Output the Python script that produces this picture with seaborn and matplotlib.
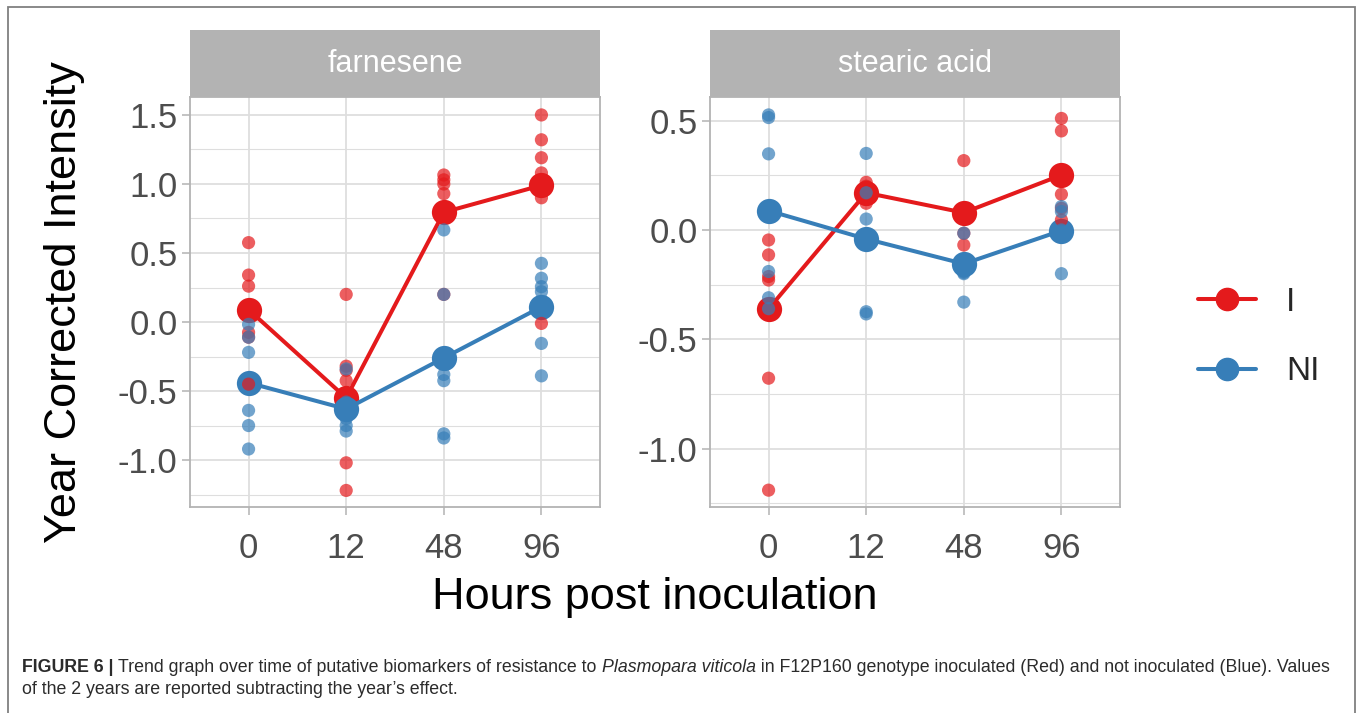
import numpy as np
import pandas as pd
import matplotlib
matplotlib.use("Agg")
import matplotlib.pyplot as plt
from matplotlib.lines import Line2D
from matplotlib.patches import Rectangle
import seaborn as sns

# ---------------- data ----------------
hours = ["0", "12", "48", "96"]
groups = ["I", "NI"]
compounds = ["farnesene", "stearic acid"]

far_I_0 = [0.575, 0.34, 0.26, -0.075, -0.11, -0.45]
far_I_12 = [0.20, -0.32, -0.35, -0.425, -1.02, -1.22]
far_I_48 = [1.065, 1.03, 1.0, 0.93, 0.80, 0.20]
far_I_96 = [1.50, 1.32, 1.19, 1.08, 0.90, -0.01]
far_NI_0 = [-0.017, -0.11, -0.22, -0.64, -0.75, -0.92]
far_NI_12 = [-0.34, -0.58, -0.62, -0.70, -0.75, -0.79]
far_NI_48 = [0.667, 0.20, -0.38, -0.425, -0.81, -0.84]
far_NI_96 = [0.425, 0.317, 0.256, 0.22, -0.155, -0.39]
far_I_mean = [0.09, -0.55, 0.795, 0.99]
far_NI_mean = [-0.44, -0.63, -0.26, 0.11]

st_I_0 = [-0.046, -0.114, -0.213, -0.229, -0.678, -1.19]
st_I_12 = [0.218, 0.20, 0.17, 0.15, 0.14, 0.122]
st_I_48 = [0.317, 0.08, 0.08, -0.015, -0.069, 0.08]
st_I_96 = [0.51, 0.453, 0.235, 0.163, 0.099, 0.046]
st_NI_0 = [0.526, 0.514, 0.348, -0.19, -0.31, -0.36]
st_NI_12 = [0.35, 0.05, 0.17, -0.06, -0.374, -0.384]
st_NI_48 = [-0.015, -0.155, -0.19, -0.20, -0.33, -0.195]
st_NI_96 = [0.107, 0.084, 0.0, -0.01, -0.005, -0.20]
st_I_mean = [-0.361, 0.17, 0.079, 0.251]
st_NI_mean = [0.088, -0.041, -0.155, -0.003]

raw = {
    ("farnesene", "I"): [far_I_0, far_I_12, far_I_48, far_I_96],
    ("farnesene", "NI"): [far_NI_0, far_NI_12, far_NI_48, far_NI_96],
    ("stearic acid", "I"): [st_I_0, st_I_12, st_I_48, st_I_96],
    ("stearic acid", "NI"): [st_NI_0, st_NI_12, st_NI_48, st_NI_96],
}
means = {
    ("farnesene", "I"): far_I_mean,
    ("farnesene", "NI"): far_NI_mean,
    ("stearic acid", "I"): st_I_mean,
    ("stearic acid", "NI"): st_NI_mean,
}

rows = []
for (comp, grp), lists in raw.items():
    for h, vals in zip(hours, lists):
        for v in vals:
            rows.append({"compound": comp, "group": grp, "hours": h, "value": v})
points_df = pd.DataFrame(rows)
mrows = []
for (comp, grp), vals in means.items():
    for h, v in zip(hours, vals):
        mrows.append({"compound": comp, "group": grp, "hours": h, "value": v})
means_df = pd.DataFrame(mrows)

palette = {"I": "#E41A1C", "NI": "#377EB8"}

# ---------------- style ----------------
sns.set_theme(style="white")
plt.rcParams["font.family"] = ["Liberation Sans", "DejaVu Sans"]

W, H = 1363, 713
fig = plt.figure(figsize=(W / 100, H / 100), dpi=100)
fig.patch.set_facecolor("white")

panel_left = [190, 710]
panel_w = 410
panel_top, panel_bot = 97, 507
strip_top = 30

ylims = {"farnesene": (-1.34, 1.63), "stearic acid": (-1.267, 0.608)}
yticks = {"farnesene": [-1.0, -0.5, 0.0, 0.5, 1.0, 1.5],
          "stearic acid": [-1.0, -0.5, 0.0, 0.5]}
yminor = {"farnesene": [-1.25, -0.75, -0.25, 0.25, 0.75, 1.25],
          "stearic acid": [-1.25, -0.75, -0.25, 0.25]}

grid_col = "#dedede"
border_col = "#b3b3b3"

for comp, left in zip(compounds, panel_left):
    ax = fig.add_axes([left / W, (H - panel_bot) / H, panel_w / W, (panel_bot - panel_top) / H])
    ax.set_facecolor("white")
    sub = points_df[points_df.compound == comp]
    msub = means_df[means_df.compound == comp]
    sns.stripplot(data=sub, x="hours", y="value", hue="group", order=hours,
                  hue_order=groups, palette=palette, jitter=False, dodge=False,
                  size=9.5, alpha=0.7, linewidth=0, legend=False, ax=ax, zorder=3)
    sns.pointplot(data=msub, x="hours", y="value", hue="group", order=hours,
                  hue_order=groups, palette=palette, errorbar=None, dodge=False,
                  markersize=16, linewidth=2.9, legend=False, ax=ax)
    ax.set_xlim(-0.6, 3.6)
    ax.set_ylim(*ylims[comp])
    ax.set_yticks(yticks[comp])
    ax.set_yticklabels([f"{t:.1f}" for t in yticks[comp]])
    ax.set_yticks(yminor[comp], minor=True)
    ax.grid(True, which="major", color=grid_col, linewidth=1.3, zorder=0)
    ax.grid(True, which="minor", axis="y", color=grid_col, linewidth=0.8, zorder=0)
    ax.set_axisbelow(True)
    for s in ax.spines.values():
        s.set_color(border_col)
        s.set_linewidth(1.3)
    ax.tick_params(axis="both", which="major", length=6, width=1.1, color=border_col,
                   labelsize=25, labelcolor="#4d4d4d", pad=3, left=True, bottom=True)
    ax.tick_params(axis="x", pad=12)
    ax.tick_params(which="minor", length=0)
    ax.set_xlabel("")
    ax.set_ylabel("")
    # facet strip
    sax = fig.add_axes([left / W, (H - panel_top) / H, panel_w / W, (panel_top - strip_top) / H])
    sax.set_facecolor("#b3b3b3")
    for s in sax.spines.values():
        s.set_visible(False)
    sax.set_xticks([])
    sax.set_yticks([])
    sax.text(0.5, 0.5, comp, color="white", fontsize=22, ha="center", va="center",
             transform=sax.transAxes)

fig.text(655 / W, (H - 597) / H, "Hours post inoculation", fontsize=32.5,
         ha="center", va="center", color="black")
fig.text(65 / W, (H - 302) / H, "Year Corrected Intensity", fontsize=32.5,
         ha="center", va="center", rotation=90, color="black")

handles = [Line2D([0], [0], color=palette[g], marker="o", markersize=16, linewidth=2.9)
           for g in groups]
fig.legend(handles, groups, loc="center left", bbox_to_anchor=(1198 / W, (H - 337) / H),
           frameon=False, fontsize=24, handlelength=1.75, handletextpad=0.9,
           labelspacing=1.15, borderpad=0, borderaxespad=0)

# outer frame
fig.add_artist(Rectangle((8 / W, -0.05), (1355 - 8) / W, (H - 7) / H + 0.05,
                         transform=fig.transFigure, fill=False, edgecolor="#808080",
                         linewidth=1.3))

# caption with mixed styles
cap_size = 12.75
cap_col = "#2b2b2b"
renderer = fig.canvas.get_renderer()
line1 = [("FIGURE 6 | ", "bold", "normal"),
         ("Trend graph over time of putative biomarkers of resistance to ", "normal", "normal"),
         ("Plasmopara viticola", "normal", "italic"),
         (" in F12P160 genotype inoculated (Red) and not inoculated (Blue). Values", "normal", "normal")]
line2 = [("of the 2 years are reported subtracting the year\u2019s effect.", "normal", "normal")]
for parts, ypix in [(line1, 668), (line2, 690)]:
    x = 22
    for txt, wt, st in parts:
        t = fig.text(x / W, (H - ypix) / H, txt, fontsize=cap_size, fontweight=wt,
                     fontstyle=st, color=cap_col, ha="left", va="center")
        bb = t.get_window_extent(renderer=renderer)
        x += bb.width

fig.savefig("out.png", dpi=100, facecolor="white")
